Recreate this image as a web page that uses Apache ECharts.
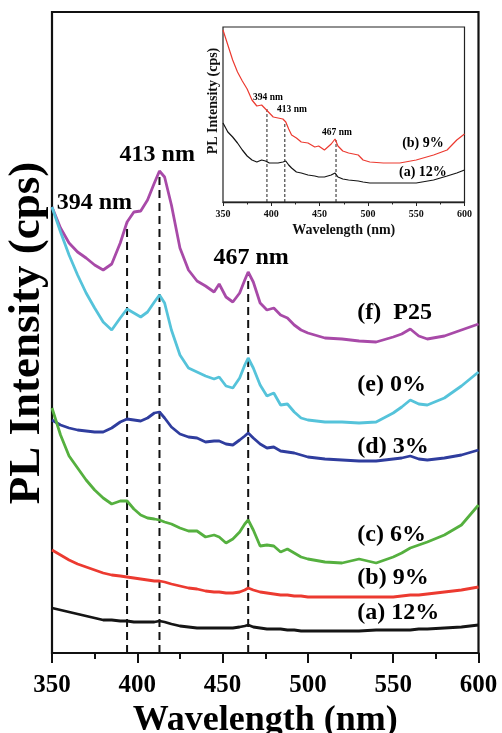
<!DOCTYPE html>
<html>
<head>
<meta charset="utf-8">
<script src="https://cdn.jsdelivr.net/npm/echarts@6/dist/echarts.min.js"></script>
<style>html,body{margin:0;padding:0;background:#fff}#c{width:502px;height:733px}</style>
</head>
<body>
<div id="c"></div>
<script>
// ---------- main chart data (wavelength nm, relative PL intensity) ----------
const wl = [350,355,360,365,370,375,380,385,390,394,398,402,406,410,413,416,420,425,430,435,440,445,448,452,456,460,463,465,468,472,476,480,484,488,492,496,500,510,520,530,540,550,555,560,565,570,580,590,600];
const sP25 = [446,425,410,401,395,388,383,389,410,431,441,442,453,470,482,476,448,405,383,372,367,361,369,356,351,360,373,381,371,350,343,345,338,335,328,323,320,315,314,312,311,316,319,324,317,314,317,323,329];
const s0 = [446,421,398,378,360,345,331,323,335,344,340,336,341,351,358,350,323,298,285,281,277,274,276,267,265,275,288,295,285,268,257,260,248,249,241,235,233,231,231,230,231,240,246,253,249,248,255,267,281];
const s3 = [233,228,225,223,222,221,221,225,231,234,233,232,235,240,241,235,226,219,216,215,211,212,212,209,208,213,217,220,215,209,205,206,202,201,200,198,196,194,193,192,192,194,195,197,194,193,195,198,203];
const s6 = [245,218,197,185,173,163,155,149,152,152,144,138,135,134,133,131,129,125,122,122,116,118,116,110,114,121,129,133,123,107,108,107,101,104,100,96,94,91,90,94,90,96,100,105,108,111,118,128,148];
const s9 = [103,98,93,89,86,83,80,78,77,76,75,74,73,72,72,71,69,67,65,64,62,61,61,60,60,61,63,65,63,61,60,59,58,58,57,57,56,56,56,56,56,56,57,58,58,59,61,63,66];
const s12 = [45,43,41,39,37,35,33,33,32,32,31,31,31,31,32,31,29,27,26,25,25,25,25,25,25,26,27,28,26,25,24,24,24,23,23,22,22,22,22,22,23,23,23,23,24,24,25,26,28];
const seriesNames = ['(f)  P25','(e) 0%','(d) 3%','(c) 6%','(b) 9%','(a) 12%'];
const peakWl = [394, 413, 465];
const peakTop = [431, 482, 378];
const peakNames = ['394 nm','413 nm','467 nm'];
const xTicks = [350,400,450,500,550,600];

// ---------- inset data ----------
const wlIn = [350,355,360,365,370,375,380,385,390,394,398,402,407,412,415,418,421,426,431,438,445,449,455,462,466,469,474,480,490,495,502,516,533,550,568,582,592,600];
const in9 = [172,157,142,130,121,113,102,96,97,93,89,85,84,83,80,73,67,64,60,59,55,56,52,58,63,56,51,49,47,42,40,39,39,42,47,52,62,68];
const in12 = [79,70,65,59,52,46,42,40,42,41,39,39,39,40,41,37,34,30,29,27,26,25,25,27,29,25,23,22,21,20,19,19,19,19,22,26,29,32];
const inPeakWl = [395.5, 414, 467];
const inPeakTop = [94, 80, 62];
const inNames = ['(b) 9%','(a) 12%'];

// ---------- layout / style ----------
const FONT = "'Liberation Serif','Times New Roman',serif";
const colors = ['#a84aa8','#55c3da','#2f3d9e','#55b03f','#ec3a30','#151515'];
const mainLabelPos = [[529,340],[529,268],[529,206],[529,118],[529,75],[529,40]];
const peakLabelPos = [[374.8,450],[411.7,498],[466.7,395]];
const inPeakLabelPos = [[396.6,104],[421.4,92],[468,69]];
const inNamePos = [[557,59],[557,30]];

const zip = (x, y) => x.map((v, i) => [v, y[i]]);
const mainSeries = [sP25, s0, s3, s6, s9, s12].map((d, i) => ({
  type: 'line', xAxisIndex: 0, yAxisIndex: 0, data: zip(wl, d), showSymbol: false,
  lineStyle: { color: colors[i], width: 2.8 }, z: 3, silent: true
}));
const dashMain = peakWl.map((w, i) => ({
  type: 'line', xAxisIndex: 0, yAxisIndex: 0, data: [[w, 0], [w, peakTop[i]]], showSymbol: false,
  lineStyle: { color: '#111', width: 2, type: [8, 5] }, z: 2, silent: true
}));
const inSeries = [in9, in12].map((d, i) => ({
  type: 'line', xAxisIndex: 1, yAxisIndex: 1, data: zip(wlIn, d), showSymbol: false,
  lineStyle: { color: i === 0 ? '#ec3a30' : '#151515', width: 1.2 }, z: 3, silent: true
}));
const dashIn = inPeakWl.map((w, i) => ({
  type: 'line', xAxisIndex: 1, yAxisIndex: 1, data: [[w, 0], [w, inPeakTop[i]]], showSymbol: false,
  lineStyle: { color: '#222', width: 1, type: [3, 2] }, z: 2, silent: true
}));
function textSeries(axis, items, size, align) {
  return {
    type: 'scatter', xAxisIndex: axis, yAxisIndex: axis, symbolSize: 0, silent: true, z: 5,
    itemStyle: { opacity: 1 },
    data: items.map(it => ({ value: it.pos, name: it.text })),
    label: { show: true, position: 'inside', formatter: p => p.name, color: '#000', opacity: 1,
      fontFamily: FONT, fontWeight: 'bold', fontSize: size, align: align, verticalAlign: 'middle' }
  };
}

const chart = echarts.init(document.getElementById('c'), null, { renderer: 'canvas' });
chart.setOption({
  animation: false,
  backgroundColor: '#fff',
  grid: [
    { left: 52, top: 12, width: 426.5, height: 641, show: true, borderColor: '#111', borderWidth: 2.2,
      backgroundColor: 'transparent', containLabel: false, outerBoundsMode: 'none' },
    { left: 223, top: 27, width: 241.5, height: 175, show: true, borderColor: '#222', borderWidth: 1.2,
      backgroundColor: 'transparent', containLabel: false, outerBoundsMode: 'none' }
  ],
  xAxis: [
    { gridIndex: 0, type: 'value', min: 350, max: 600, interval: 50,
      axisLine: { show: true, lineStyle: { color: '#111', width: 2.2 } },
      axisTick: { show: true, inside: false, length: 10, lineStyle: { color: '#111', width: 2 } },
      minorTick: { show: true, splitNumber: 2, length: 6, lineStyle: { color: '#111', width: 2 } },
      splitLine: { show: false },
      axisLabel: { margin: 20, color: '#000', fontFamily: FONT, fontWeight: 'bold', fontSize: 25,
        customValues: xTicks },
      name: 'Wavelength (nm)', nameLocation: 'middle', nameGap: 47,
      nameTextStyle: { color: '#000', fontFamily: FONT, fontWeight: 'bold', fontSize: 36 } },
    { gridIndex: 1, type: 'value', min: 350, max: 600, interval: 50,
      axisLine: { show: true, lineStyle: { color: '#222', width: 1.3 } },
      axisTick: { show: true, inside: false, length: 4, lineStyle: { color: '#222', width: 1 } },
      minorTick: { show: true, splitNumber: 2, length: 2.5, lineStyle: { color: '#222', width: 1 } },
      splitLine: { show: false },
      axisLabel: { margin: 7, color: '#111', fontFamily: FONT, fontWeight: 'bold', fontSize: 10 },
      name: 'Wavelength (nm)', nameLocation: 'middle', nameGap: 21,
      nameTextStyle: { color: '#111', fontFamily: FONT, fontWeight: 'bold', fontSize: 14 } }
  ],
  yAxis: [
    { gridIndex: 0, type: 'value', min: 0, max: 641, show: true,
      axisLine: { show: false }, axisTick: { show: false }, axisLabel: { show: false }, splitLine: { show: false } },
    { gridIndex: 1, type: 'value', min: 0, max: 175, show: true,
      axisLine: { show: false }, axisTick: { show: false }, axisLabel: { show: false }, splitLine: { show: false } }
  ],
  graphic: [
    { type: 'text', x: 27, y: 333, rotation: Math.PI / 2,
      style: { text: 'PL Intensity (cps)', fill: '#000', font: "bold 45px 'Liberation Serif','Times New Roman',serif",
        align: 'center', verticalAlign: 'middle' } },
    { type: 'text', x: 213, y: 101, rotation: Math.PI / 2,
      style: { text: 'PL Intensity (cps)', fill: '#111', font: "bold 14px 'Liberation Serif','Times New Roman',serif",
        align: 'center', verticalAlign: 'middle' } }
  ],
  series: [
    ...dashMain, ...mainSeries, ...dashIn, ...inSeries,
    textSeries(0, peakNames.map((t, i) => ({ text: t, pos: peakLabelPos[i] })), 24, 'center'),
    textSeries(0, seriesNames.map((t, i) => ({ text: t, pos: mainLabelPos[i] })), 24, 'left'),
    textSeries(1, peakNames.map((t, i) => ({ text: t, pos: inPeakLabelPos[i] })), 9.5, 'center'),
    textSeries(1, inNames.map((t, i) => ({ text: t, pos: inNamePos[i] })), 14, 'center')
  ]
});
</script>
</body>
</html>
